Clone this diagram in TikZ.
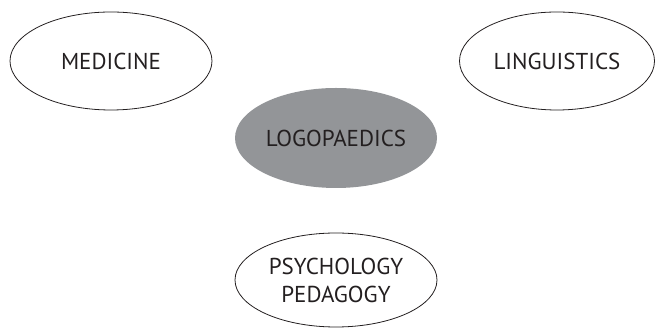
\documentclass[tikz,border=0pt]{standalone}
\usepackage{fontspec}
\setmainfont{PT Sans}
\usetikzlibrary{shapes.geometric}
\definecolor{txt}{HTML}{231F20}
\definecolor{fillgray}{HTML}{939598}
\tikzset{
  field/.style={ellipse, draw=txt, line width=0.8pt, inner sep=0pt, align=center,
    text=txt, font=\fontsize{23}{28}\selectfont},
}
\begin{document}
\begin{tikzpicture}[x=1pt,y=1pt]
\useasboundingbox (0,0) rectangle (656,328);
\node[field, minimum width=202pt, minimum height=98pt] (med) at (111,267) {MEDICINE};
\node[field, minimum width=195pt, minimum height=98pt] (ling) at (557,267) {LINGUISTICS};
\node[field, draw=none, fill=fillgray, minimum width=202pt, minimum height=100pt] (logo) at (336,190) {LOGOPAEDICS};
\node[field, minimum width=202pt, minimum height=94pt] (psy) at (336,48) {PSYCHOLOGY\\PEDAGOGY};
\end{tikzpicture}
\end{document}
